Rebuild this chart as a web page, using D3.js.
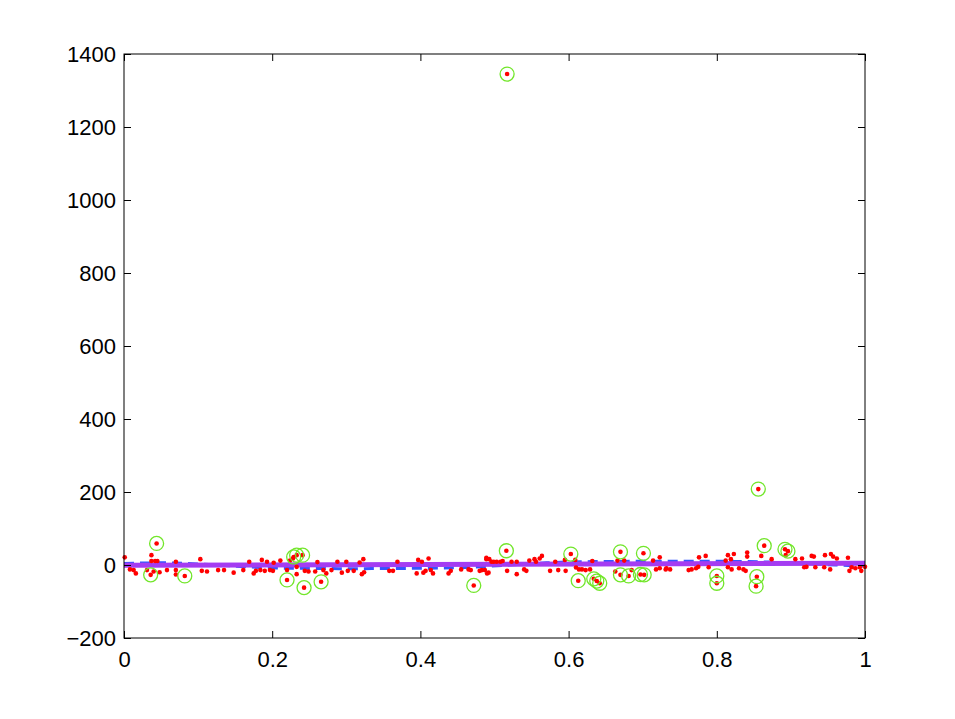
<!DOCTYPE html>
<html><head><meta charset="utf-8">
<script src="https://cdn.jsdelivr.net/npm/d3@7"></script>
<style>html,body{margin:0;padding:0;background:#fff;}svg{display:block;}</style>
</head><body>
<script>
// ---- data ----
const xTicks = [0, 0.2, 0.4, 0.6, 0.8, 1];
const yTicks = [-200, 0, 200, 400, 600, 800, 1000, 1200, 1400];

const inliers = [
[0.001,21],[0.037,27],[0.037,11],[0.042,11],[0.045,11],
[0.008,-12],[0.013,-14],[0.016,-23],[0.031,-14],
[0.040,-18],[0.048,-20],[0.058,-14],[0.070,9],[0.070,-14],[0.070,-26],
[0.103,16],[0.105,-16],[0.112,-18],[0.127,-14],[0.135,-14],[0.148,-21],[0.161,-14],[0.169,9],[0.175,-23],
[0.178,-16],[0.184,-14],[0.186,14],[0.193,9],[0.190,-16],[0.197,-14],[0.202,6],[0.201,-16],[0.211,12],
[0.220,-14],[0.224,12],[0.228,18],[0.233,-5],[0.233,-25],[0.244,-16],[0.249,-18],
[0.258,-18],[0.261,8],[0.269,-14],[0.273,-23],[0.280,-14],[0.288,9],[0.294,-21],[0.300,9],[0.302,-16],[0.310,-16],[0.318,7],[0.323,16],[0.321,-25],[0.324,-20],
[0.358,-16],[0.363,-16],[0.369,9],[0.395,-23],[0.397,14],[0.402,9],[0.411,18],[0.404,-21],[0.407,-16],[0.414,-14],[0.417,-23],[0.438,-23],[0.441,-16],[0.455,-12],[0.465,-12],[0.468,-14],
[0.480,-16],[0.483,-14],[0.487,-14],[0.489,16],[0.490,-23],[0.492,-21],
[0.489,20],[0.493,16],[0.496,9],[0.499,9],[0.503,9],[0.508,9],[0.511,11],
[0.517,-16],[0.523,9],[0.530,9],[0.530,-25],[0.540,-12],[0.543,-16],
[0.547,12],[0.554,16],[0.556,9],[0.561,18],[0.564,25],[0.575,-16],[0.582,9],[0.586,-14],[0.596,-16],[0.595,14],
[0.609,14],[0.610,-7],[0.614,-12],[0.618,-12],[0.623,-14],[0.629,-12],[0.632,11],
[0.663,-18],[0.666,12],[0.675,12],[0.685,-14],[0.714,12],[0.718,-12],[0.723,21],[0.732,-9],
[0.723,-9],[0.731,-12],[0.737,-12],[0.762,-14],[0.766,-12],[0.772,-9],[0.775,-5],[0.776,21],[0.785,25],[0.789,-6],
[0.812,12],[0.815,27],[0.819,16],[0.823,30],[0.815,-6],[0.820,-12],[0.830,-9],[0.836,-12],[0.839,-16],[0.841,34],[0.841,23],
[0.860,25],[0.874,16],[0.893,27],[0.906,16],[0.915,18],[0.918,-6],[0.921,-5],[0.928,25],[0.931,23],[0.933,-6],
[0.946,27],[0.954,30],[0.957,23],[0.962,18],[0.945,-6],[0.953,-12],[0.977,20],[0.979,-16],[0.982,-6],[0.987,-9],[0.993,-6],[0.995,-16],[1.0,-5]
];

const outliers = [
[0.036,-27],[0.044,59],[0.082,-30],[0.220,-41],[0.229,22],[0.233,27],[0.241,27],[0.243,-62],[0.266,-46],
[0.472,-56],[0.516,39],[0.517,1345],[0.603,30],[0.613,-43],[0.634,-38],[0.638,-44],[0.642,-50],
[0.670,36],[0.670,-27],[0.681,-30],[0.697,-26],[0.702,-27],[0.701,32],[0.800,-30],[0.800,-50],
[0.854,-32],[0.853,-58],[0.856,208],[0.864,53],[0.892,43],[0.896,38]
];

// smooth fit (blue dashed) and robust linear fit (purple)
const smoothFit = [[0,4],[0.05,6],[0.1,3],[0.15,-3],[0.2,-8],[0.3,-10],[0.4,-9],[0.47,-6],[0.52,0],[0.57,6],[0.62,9],[0.7,10],[0.8,10],[0.87,8],[0.92,4],[0.96,0],[1,-3]];
const robustFit = [[0,-1],[1,5]];

// ---- layout ----
const W = 955, H = 719;
const L = 124, T = 54, R = 865, B = 638;
const svg = d3.select("body").append("svg").attr("width", W).attr("height", H);
svg.append("rect").attr("width", W).attr("height", H).attr("fill", "#fff");

const x = d3.scaleLinear().domain([0, 1]).range([L, R]);
const y = d3.scaleLinear().domain([-200, 1400]).range([B, T]);
const font = "'Liberation Sans', Arial, Helvetica, sans-serif";
const tickLen = 7;

const plot = svg.append("g");
const line = d3.line().x(d => x(d[0])).y(d => y(d[1]));

plot.append("path").datum(smoothFit).attr("d", line.curve(d3.curveMonotoneX))
  .attr("fill", "none").attr("stroke", "#3355ff").attr("stroke-width", 3).attr("stroke-dasharray", "10,6");
plot.append("path").datum(robustFit).attr("d", d3.line().x(d => x(d[0])).y(d => y(d[1])))
  .attr("fill", "none").attr("stroke", "#a43cf2").attr("stroke-width", 5);

plot.selectAll("circle.in").data(inliers.concat(outliers)).enter().append("circle")
  .attr("cx", d => x(d[0])).attr("cy", d => y(d[1])).attr("r", 2.3).attr("fill", "#ff0000");
plot.selectAll("circle.out").data(outliers).enter().append("circle")
  .attr("cx", d => x(d[0])).attr("cy", d => y(d[1])).attr("r", 7)
  .attr("fill", "none").attr("stroke", "#72e62a").attr("stroke-width", 1.3);

// ---- axes ----
const axB = svg.append("g").attr("transform", `translate(0,${B})`)
  .call(d3.axisBottom(x).tickValues(xTicks).tickSizeInner(-tickLen).tickSizeOuter(0).tickPadding(13).tickFormat(d => d3.format("")(d)));
const axT = svg.append("g").attr("transform", `translate(0,${T})`)
  .call(d3.axisTop(x).tickValues(xTicks).tickSizeInner(-tickLen).tickSizeOuter(0).tickFormat(""));
const axL = svg.append("g").attr("transform", `translate(${L},0)`)
  .call(d3.axisLeft(y).tickValues(yTicks).tickSizeInner(-tickLen).tickSizeOuter(0).tickPadding(8).tickFormat(d => d3.format("")(d)));
const axR = svg.append("g").attr("transform", `translate(${R},0)`)
  .call(d3.axisRight(y).tickValues(yTicks).tickSizeInner(-tickLen).tickSizeOuter(0).tickFormat(""));
[axB, axT, axL, axR].forEach(a => {
  a.select(".domain").remove();
  a.selectAll("line").attr("stroke", "#000").attr("stroke-width", 1);
  a.selectAll("text").attr("fill", "#000").style("font-family", font).style("font-size", "22px");
});
svg.append("rect").attr("x", L).attr("y", T).attr("width", R - L).attr("height", B - T)
  .attr("fill", "none").attr("stroke", "#000").attr("stroke-width", 1);
</script>
</body></html>
